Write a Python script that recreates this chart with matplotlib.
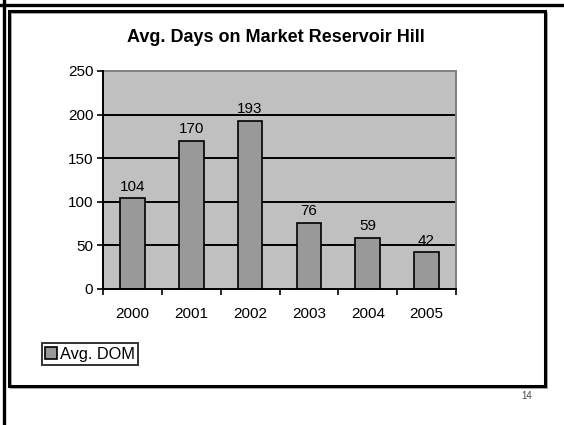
import matplotlib

matplotlib.use("Agg")
import matplotlib.pyplot as plt
from matplotlib.lines import Line2D
from matplotlib.patches import Rectangle

plt.rcParams["font.family"] = ["Liberation Sans", "DejaVu Sans"]

# ---------------------------------------------------------------------------
years = ["2000", "2001", "2002", "2003", "2004", "2005"]
avg_dom = [104, 170, 193, 76, 59, 42]
y_ticks = [0, 50, 100, 150, 200, 250]
series_name = "Avg. DOM"
title = "Avg. Days on Market Reservoir Hill"
page_no = "14"

W, H = 564, 425
FS = 11
fig = plt.figure(figsize=(W / 100, H / 100), dpi=100)


def px(x, y):
    """pixel (top-left origin) -> figure fraction"""
    return x / W, 1 - y / H


# slide frame: heavy top and left rules, then the inner chart box
fig.add_artist(Line2D([0, 1], [px(0, 4.5)[1]] * 2, color="black", lw=2.4, transform=fig.transFigure))
fig.add_artist(Line2D([px(3.5, 0)[0]] * 2, [0, 1], color="black", lw=2.4, transform=fig.transFigure))
x0, y0 = px(9, 386)
x1, y1 = px(545, 11)
fig.add_artist(Rectangle((x0 + 2 / W, y0 - 2 / H), x1 - x0, y1 - y0, fill=False,
                         ec="#9a9a9a", lw=1.2, transform=fig.transFigure))
fig.add_artist(Rectangle((x0, y0), x1 - x0, y1 - y0, fill=False,
                         ec="black", lw=2.2, transform=fig.transFigure))

# plot area
left, top = px(103, 71)
right, bottom = px(456, 289)
ax = fig.add_axes([left, bottom, right - left, top - bottom])
ax.set_facecolor("#c0c0c0")

xs = range(len(years))
ax.bar(xs, avg_dom, width=0.42, color="#999999", edgecolor="black", lw=1.2, zorder=3, label=series_name)
for x, v in zip(xs, avg_dom):
    ax.text(x, v + 5, str(v), ha="center", va="bottom", fontsize=FS, zorder=4)

ax.set_xlim(-0.5, len(years) - 0.5)
ax.set_ylim(0, 250)
ax.set_yticks(y_ticks)
ax.set_yticklabels([str(t) for t in y_ticks], fontsize=FS)
ax.set_xticks([i - 0.5 for i in range(len(years) + 1)], minor=False)
ax.set_xticklabels([])
ax.set_xticks(list(xs), minor=True)
ax.set_xticklabels(years, minor=True, fontsize=FS)
ax.tick_params(axis="x", which="major", direction="out", length=4, width=1.2)
ax.tick_params(axis="x", which="minor", length=0, pad=13)
ax.tick_params(axis="y", direction="out", length=4, width=1.2, pad=3)

for t in y_ticks[1:-1]:
    ax.axhline(t, color="black", lw=1.4, zorder=2)

ax.spines["left"].set_linewidth(1.4)
ax.spines["bottom"].set_linewidth(1.4)
ax.spines["top"].set_color("#808080")
ax.spines["right"].set_color("#808080")
ax.spines["top"].set_linewidth(1.4)
ax.spines["right"].set_linewidth(1.4)
for s in ("left", "bottom"):
    ax.spines[s].set_zorder(5)

tx, ty = px(276, 37)
fig.text(tx, ty, title, ha="center", va="center", fontsize=13, fontweight="bold")

lx, ly = px(42, 365)
leg = fig.legend(loc="lower left", bbox_to_anchor=(lx, ly), fontsize=11.8, frameon=True,
                 fancybox=False, handlelength=0.7, handleheight=0.7, handletextpad=0.2,
                 borderpad=0.2, borderaxespad=0)
leg.get_frame().set_edgecolor("black")
leg.get_frame().set_linewidth(1.4)

nx, ny = px(527, 396)
fig.text(nx, ny, page_no, ha="center", va="center", fontsize=7, color="#444444")

fig.savefig("out.png", dpi=100)
